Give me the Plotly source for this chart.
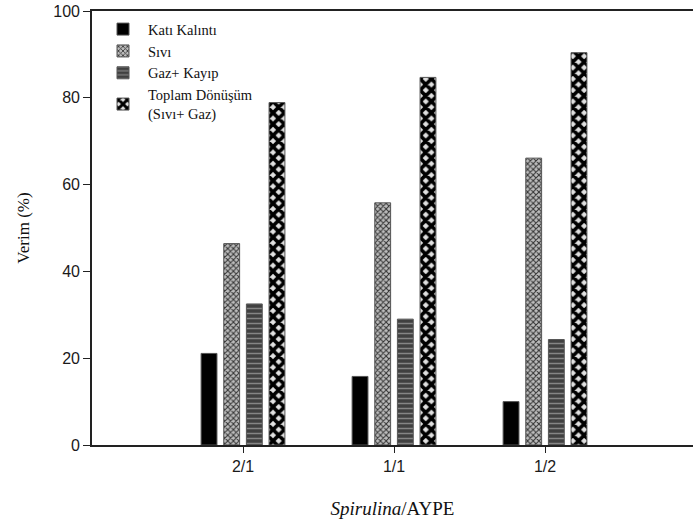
import plotly.graph_objects as go

categories = ["2/1", "1/1", "1/2"]
kati_kalinti = [21.1, 15.8, 10.0]
sivi = [46.4, 55.8, 66.1]
gaz_kayip = [32.5, 29.0, 24.3]
toplam = [78.9, 84.7, 90.4]

series_names = ["Katı Kalıntı", "Sıvı", "Gaz+ Kayıp", "Toplam Dönüşüm<br>(Sıvı+ Gaz)"]
y_ticks = [0, 20, 40, 60, 80, 100]

serif = "Liberation Serif, Times New Roman, serif"
sans = "Liberation Sans, Arial, sans-serif"
line = dict(color="#555555", width=1)

fig = go.Figure()
fig.add_trace(go.Bar(x=categories, y=kati_kalinti, name=series_names[0],
                     marker=dict(color="#000000", line=line)))
fig.add_trace(go.Bar(x=categories, y=sivi, name=series_names[1],
                     marker=dict(color="#b0b0b0", line=line,
                                 pattern=dict(shape="x", size=4, solidity=0.45,
                                              fgcolor="#333333", bgcolor="#bdbdbd",
                                              fillmode="replace"))))
fig.add_trace(go.Bar(x=categories, y=gaz_kayip, name=series_names[2],
                     marker=dict(color="#505050", line=line,
                                 pattern=dict(shape="-", size=5, solidity=0.3,
                                              fgcolor="#858585", bgcolor="#404040",
                                              fillmode="replace"))))
fig.add_trace(go.Bar(x=categories, y=toplam, name=series_names[3],
                     marker=dict(color="#000000", line=line,
                                 pattern=dict(shape="x", size=8, solidity=0.7,
                                              fgcolor="#000000", bgcolor="#e0e0e0",
                                              fillmode="replace"))))

fig.update_layout(
    width=693, height=527,
    margin=dict(l=92, r=0, t=11, b=82, autoexpand=False),
    paper_bgcolor="white", plot_bgcolor="white",
    barmode="group", bargap=0.4, bargroupgap=0.3,
    showlegend=True,
    legend=dict(x=0.01, y=0.995, xanchor="left", yanchor="top",
                font=dict(family=serif, size=14.5, color="#111111"),
                bgcolor="rgba(0,0,0,0)", itemwidth=40, tracegroupgap=0),
    xaxis=dict(type="category", range=[-1, 2.98],
               showline=True, linecolor="#222222", linewidth=1.6, mirror=True,
               ticks="outside", ticklen=6, tickcolor="#222222", tickwidth=1.3,
               tickfont=dict(family=sans, size=16, color="#1a1a1a"),
               showgrid=False, zeroline=False,
               title=dict(text="<i>Spirulina</i>/AYPE", standoff=28,
                          font=dict(family=serif, size=19, color="#111111"))),
    yaxis=dict(range=[0, 100], tickvals=y_ticks,
               showline=True, linecolor="#222222", linewidth=1.6, mirror=False,
               ticks="outside", ticklen=7, tickcolor="#222222", tickwidth=1.3,
               tickfont=dict(family=sans, size=16, color="#1a1a1a"),
               showgrid=False, zeroline=False,
               title=dict(text="Verim (%)", standoff=19,
                          font=dict(family=serif, size=17, color="#111111"))),
)

fig.write_html("out.html")
